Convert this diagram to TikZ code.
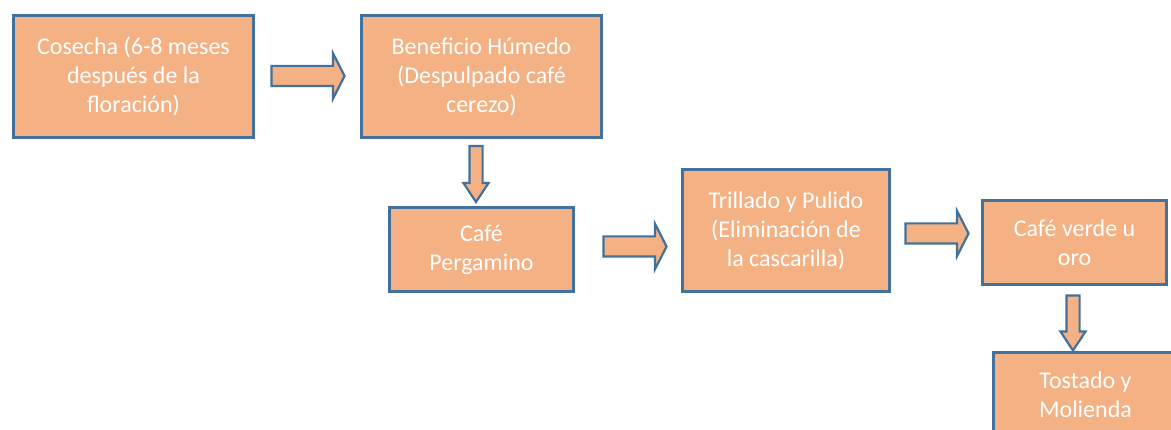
\documentclass[tikz,border=0pt]{standalone}
\usepackage{fontspec}
\setmainfont{Carlito}
\usepackage{xcolor}
\usepackage{tikz}
\usetikzlibrary{shapes.arrows}
\definecolor{naranja}{HTML}{F4B183}
\definecolor{borde}{HTML}{41719C}
\begin{document}
\begin{tikzpicture}[x=1pt, y=-1pt,
  etapa/.style={rectangle, draw=borde, fill=naranja, line width=2.6pt, text=white, align=center, inner sep=0pt, font={\fontsize{24}{29}\selectfont}},
  grande/.style={etapa, minimum width=240pt, minimum height=122pt},
  media/.style={etapa, minimum width=207pt, minimum height=122pt},
  chica/.style={etapa, minimum width=184pt, minimum height=84pt},
  flecha/.style={single arrow, draw=borde, fill=naranja, line width=2.2pt, inner xsep=0pt, inner ysep=9pt, single arrow head extend=12.5pt, single arrow head indent=0pt, single arrow tip angle=126, minimum height=73pt},
  bajada/.style={single arrow, draw=borde, fill=naranja, line width=2.2pt, inner xsep=5.5pt, inner ysep=0pt, single arrow head extend=6pt, single arrow head indent=0pt, single arrow tip angle=67, minimum height=56pt, shape border rotate=270}]
  \path[use as bounding box, clip] (0,0) rectangle (1171,430);
  \node[grande] (cosecha) at (133.5,76.5) {Cosecha (6-8 meses\\después de la\\floración)};
  \node[grande] (humedo) at (481.5,76.5) {Beneficio Húmedo\\(Despulpado café\\cerezo)};
  \node[chica] (pergamino) at (481.5,249.5) {Café\\Pergamino};
  \node[media] (trillado) at (786,230.5) {Trillado y Pulido\\(Eliminación de\\la cascarilla)};
  \node[chica] (verde) at (1074.5,242.5) {Café verde u\\oro};
  \node[chica] (tostado) at (1085.5,394.5) {Tostado y\\Molienda};
  \node[flecha] (f1) at (305.5,76) {};
  \node[bajada] (f2) at (476,169) {};
  \node[flecha, minimum height=63pt] (f3) at (632.5,246.5) {};
  \node[flecha, minimum height=63pt] (f4) at (934.5,233.5) {};
  \node[bajada, minimum height=55pt] (f5) at (1073,318) {};
\end{tikzpicture}
\end{document}
